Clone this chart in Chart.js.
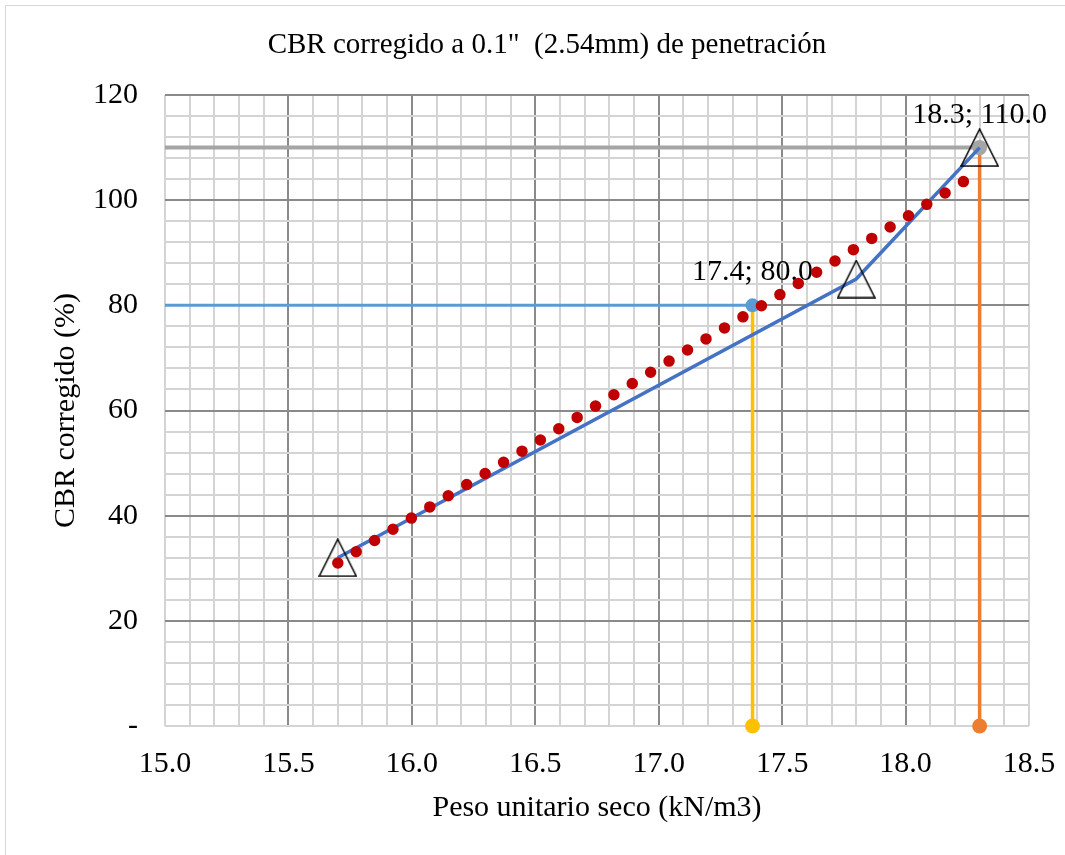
<!DOCTYPE html>
<html>
<head>
<meta charset="utf-8">
<script src="https://cdn.jsdelivr.net/npm/chart.js@4.4.0/dist/chart.umd.min.js"></script>
<style>
  html, body { margin: 0; padding: 0; background: #fff; }
  #wrap { width: 1065px; height: 855px; }
</style>
</head>
<body>
<div id="wrap"><canvas id="cbr" width="1065" height="855"></canvas></div>
<script>
// textos
const TITLE = 'CBR corregido a 0.1"  (2.54mm) de penetración';
const X_TITLE = 'Peso unitario seco (kN/m3)';
const Y_TITLE = 'CBR corregido (%)';

// ejes
const X_MIN = 15.0, X_MAX = 18.5, X_MINOR = 0.1, X_MAJOR = 0.5;
const Y_MIN = 0, Y_MAX = 120, Y_MINOR = 4, Y_MAJOR = 20;

// ensayos (triangulos)
const TEST_X = [15.7, 17.8, 18.3];
const TEST_Y = [32.0, 85.0, 110.0];

// linea de tendencia (puntos rojos)
const TREND_X = [15.70, 16.00, 16.50, 17.00, 17.50, 18.00, 18.24];
const TREND_Y = [31.0, 39.6, 53.8, 68.2, 82.3, 96.7, 103.7];

// lectura CBR 80 %
const H80_X = [15.0, 17.38];
const H80_Y = [80.0, 80.0];
const V80_X = [17.38, 17.38];
const V80_Y = [80.0, 0.0];

// lectura CBR 110 %
const H110_X = [15.0, 18.3];
const H110_Y = [110.0, 110.0];
const V110_X = [18.3, 18.3];
const V110_Y = [110.0, 0.0];

const FONT = "'Liberation Serif', 'Times New Roman', serif";

const toPoints = (xs, ys) => xs.map((x, i) => ({ x, y: ys[i] }));
const isMultiple = (v, step) => Math.abs(v / step - Math.round(v / step)) < 1e-6;

// marcador triangulo hueco
function triangleMarker(size) {
    const c = document.createElement('canvas');
    c.width = size + 2;
    c.height = size + 2;
    const g = c.getContext('2d');
    g.strokeStyle = '#000';
    g.lineWidth = 1.5;
    g.beginPath();
    g.moveTo(c.width / 2, 1);
    g.lineTo(c.width - 1, c.height - 1);
    g.lineTo(1, c.height - 1);
    g.closePath();
    g.stroke();
    return c;
}

const frameAndTitle = {
    id: 'frameAndTitle',
    beforeDraw(chart) {
        const ctx = chart.ctx;
        ctx.save();
        ctx.fillStyle = '#fff';
        ctx.fillRect(0, 0, chart.width, chart.height);
        ctx.strokeStyle = '#d9d9d9';
        ctx.lineWidth = 1;
        ctx.strokeRect(5.5, 5.5, chart.width + 10, chart.height + 10);
        ctx.fillStyle = '#000';
        ctx.font = '29px ' + FONT;
        ctx.textAlign = 'center';
        ctx.textBaseline = 'alphabetic';
        ctx.fillText(TITLE, 547, 53);
        ctx.restore();
    }
};

// etiquetas "x; y" sobre los puntos leidos
const pointLabels = {
    id: 'pointLabels',
    beforeDatasetsDraw(chart) {
        const { ctx, scales: { x, y } } = chart;
        ctx.save();
        ctx.fillStyle = '#000';
        ctx.font = '30px ' + FONT;
        ctx.textAlign = 'center';
        ctx.textBaseline = 'alphabetic';
        [[H80_X[1], H80_Y[1]], [H110_X[1], H110_Y[1]]].forEach(([vx, vy]) => {
            const text = vx.toFixed(1) + '; ' + vy.toFixed(1);
            ctx.fillText(text, x.getPixelForValue(vx), y.getPixelForValue(vy) - 25);
        });
        ctx.restore();
    }
};

function xGrid(c) {
    const v = c.tick.value;
    if (Math.abs(v - X_MIN) < 1e-6 || Math.abs(v - X_MAX) < 1e-6) return '#d4d4d4';
    return isMultiple(v, X_MAJOR) ? '#8a8a8a' : '#d4d4d4';
}

function yGrid(c) {
    const v = c.tick.value;
    if (v === Y_MIN) return '#d4d4d4';
    return isMultiple(v, Y_MAJOR) ? '#8a8a8a' : '#d4d4d4';
}

new Chart(document.getElementById('cbr'), {
    type: 'scatter',
    data: {
        datasets: [
            {
                label: 'Tendencia',
                data: toPoints(TREND_X, TREND_Y),
                showLine: true,
                borderColor: '#C00000',
                borderWidth: 11.5,
                borderDash: [0, 21.55],
                borderCapStyle: 'round',
                cubicInterpolationMode: 'monotone',
                pointRadius: 0,
                order: 0,
                clip: false
            },
            {
                label: 'Ensayos',
                data: toPoints(TEST_X, TEST_Y),
                showLine: true,
                borderColor: '#4472C4',
                borderWidth: 3.5,
                pointStyle: triangleMarker(37),
                pointRadius: 18,
                order: 1,
                clip: false
            },
            {
                label: 'CBR 80',
                data: toPoints(H80_X, H80_Y),
                showLine: true,
                borderColor: '#5B9BD5',
                backgroundColor: '#5B9BD5',
                borderWidth: 3,
                pointRadius: [0, 7],
                pointBorderWidth: 0,
                order: 3,
                clip: false
            },
            {
                label: 'Bajada 80',
                data: toPoints(V80_X, V80_Y),
                showLine: true,
                borderColor: '#FFC000',
                backgroundColor: '#FFC000',
                borderWidth: 3.5,
                pointRadius: [0, 7.5],
                pointBorderWidth: 0,
                order: 4,
                clip: false
            },
            {
                label: 'CBR 110',
                data: toPoints(H110_X, H110_Y),
                showLine: true,
                borderColor: '#A5A5A5',
                backgroundColor: '#A5A5A5',
                borderWidth: 4,
                pointRadius: [0, 7.5],
                pointBorderWidth: 0,
                order: 2,
                clip: false
            },
            {
                label: 'Bajada 110',
                data: toPoints(V110_X, V110_Y),
                showLine: true,
                borderColor: '#ED7D31',
                backgroundColor: '#ED7D31',
                borderWidth: 3.5,
                pointRadius: [0, 7.5],
                pointBorderWidth: 0,
                order: 5,
                clip: false
            }
        ]
    },
    options: {
        responsive: false,
        animation: false,
        events: [],
        layout: { padding: { top: 95, right: 36, bottom: 0, left: 0 } },
        plugins: {
            legend: { display: false },
            tooltip: { enabled: false },
            title: { display: false }
        },
        scales: {
            x: {
                type: 'linear',
                min: X_MIN,
                max: X_MAX,
                afterFit: s => {
                    s.height = 129;
                    s.paddingLeft = 0;
                    s.paddingRight = 0;
                },
                border: { display: false },
                grid: { drawTicks: false, lineWidth: 2, color: xGrid },
                ticks: {
                    stepSize: X_MINOR,
                    autoSkip: false,
                    maxRotation: 0,
                    padding: 20,
                    color: '#000',
                    font: { family: FONT, size: 30 },
                    callback: v => isMultiple(v, X_MAJOR) ? v.toFixed(1) : ''
                },
                title: {
                    display: true,
                    text: X_TITLE,
                    color: '#000',
                    font: { family: FONT, size: 30 },
                    padding: { top: 0, bottom: 29 }
                }
            },
            y: {
                type: 'linear',
                min: Y_MIN,
                max: Y_MAX,
                afterFit: s => {
                    s.width = 165;
                    s.paddingTop = 0;
                    s.paddingBottom = 0;
                },
                border: { display: false },
                grid: { drawTicks: false, lineWidth: 2, color: yGrid },
                ticks: {
                    stepSize: Y_MINOR,
                    autoSkip: false,
                    padding: 27,
                    color: '#000',
                    font: { family: FONT, size: 30 },
                    callback: v => v === 0 ? '-' : (isMultiple(v, Y_MAJOR) ? String(v) : '')
                },
                title: {
                    display: true,
                    text: Y_TITLE,
                    color: '#000',
                    font: { family: FONT, size: 30 },
                    padding: { top: 48, bottom: 0 }
                }
            }
        }
    },
    plugins: [frameAndTitle, pointLabels]
});
</script>
</body>
</html>
